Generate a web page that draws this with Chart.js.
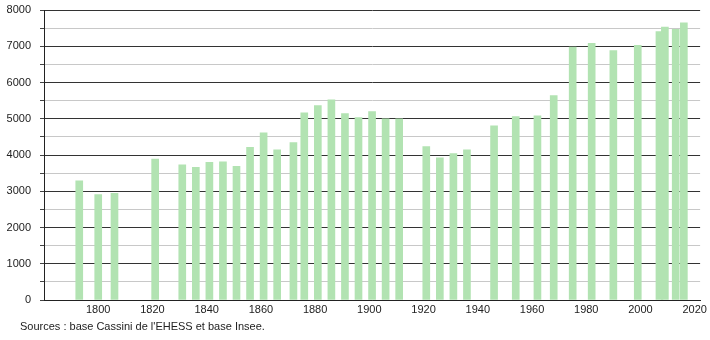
<!DOCTYPE html>
<html>
<head>
<meta charset="utf-8">
<script src="https://cdn.jsdelivr.net/npm/chart.js@4/dist/chart.umd.min.js"></script>
<style>
  html, body { margin: 0; padding: 0; background: #fff; }
  #wrap { position: relative; width: 710px; height: 340px; }
  #c { position: absolute; left: 0; top: 0; }
  #src { position: absolute; left: 20px; top: 320px; font: 11px "Liberation Sans", Arial, sans-serif; color: #222; white-space: nowrap; }
</style>
</head>
<body>
<div id="wrap">
  <canvas id="c" width="710" height="340"></canvas>
  <div id="src">Sources : base Cassini de l'EHESS et base Insee.</div>
</div>
<script>
const years = [1793, 1800, 1806, 1821, 1831, 1836, 1841, 1846, 1851, 1856, 1861, 1866, 1872, 1876, 1881, 1886, 1891, 1896, 1901, 1906, 1911, 1921, 1926, 1931, 1936, 1946, 1954, 1962, 1968, 1975, 1982, 1990, 1999, 2007, 2009, 2013, 2016];
const population = [3290, 2910, 2940, 3890, 3730, 3660, 3800, 3815, 3690, 4210, 4615, 4145, 4340, 5165, 5360, 5525, 5140, 5030, 5195, 5000, 4995, 4235, 3925, 4036, 4146, 4808, 5057, 5084, 5636, 6979, 7079, 6880, 7023, 7405, 7530, 7470, 7645];
const xTickYears = [1800, 1820, 1840, 1860, 1880, 1900, 1920, 1940, 1960, 1980, 2000, 2020];
const yTickValues = [0, 500, 1000, 1500, 2000, 2500, 3000, 3500, 4000, 4500, 5000, 5500, 6000, 6500, 7000, 7500, 8000];
const sourceText = "Sources : base Cassini de l'EHESS et base Insee.";

const points = years.map((y, i) => ({ x: y, y: population[i] }));
const FONT = { family: '"Liberation Sans", Arial, sans-serif', size: 11 };

new Chart(document.getElementById('c'), {
  type: 'bar',
  data: {
    datasets: [{
      data: points,
      backgroundColor: 'rgb(178,227,178)',
      borderWidth: 0,
      barThickness: 7
    }]
  },
  options: {
    responsive: false,
    animation: false,
    devicePixelRatio: 1,
    layout: { padding: { top: 10, right: 8, left: 0, bottom: 0 } },
    plugins: { legend: { display: false }, tooltip: { enabled: false }, title: { display: false } },
    scales: {
      x: {
        type: 'linear',
        offset: false,
        min: 1780,
        max: 2022,
        afterBuildTicks: (s) => { s.ticks = xTickYears.map(v => ({ value: v })); },
        afterFit: (s) => { s.height = 40; },
        grid: { display: false, drawTicks: false },
        border: { display: true, color: '#222', width: 1 },
        ticks: { autoSkip: false, maxRotation: 0, padding: 3, color: '#222', font: FONT, callback: (v) => String(v) }
      },
      y: {
        min: 0,
        max: 8000,
        afterBuildTicks: (s) => { s.ticks = yTickValues.map(v => ({ value: v })); },
        afterFit: (s) => { s.width = 44; s.paddingTop = 0; s.paddingBottom = 0; },
        grid: {
          color: (ctx) => (ctx.tick && ctx.tick.value % 1000 === 0) ? '#333' : '#c8c8c8',
          tickColor: '#444',
          tickLength: 4,
          drawTicks: true
        },
        border: { display: true, color: '#222', width: 1 },
        ticks: {
          autoSkip: false,
          padding: 9,
          color: '#222',
          font: FONT,
          callback: (v) => (v % 1000 === 0 ? String(v) : '')
        }
      }
    }
  }
});
</script>
</body>
</html>
